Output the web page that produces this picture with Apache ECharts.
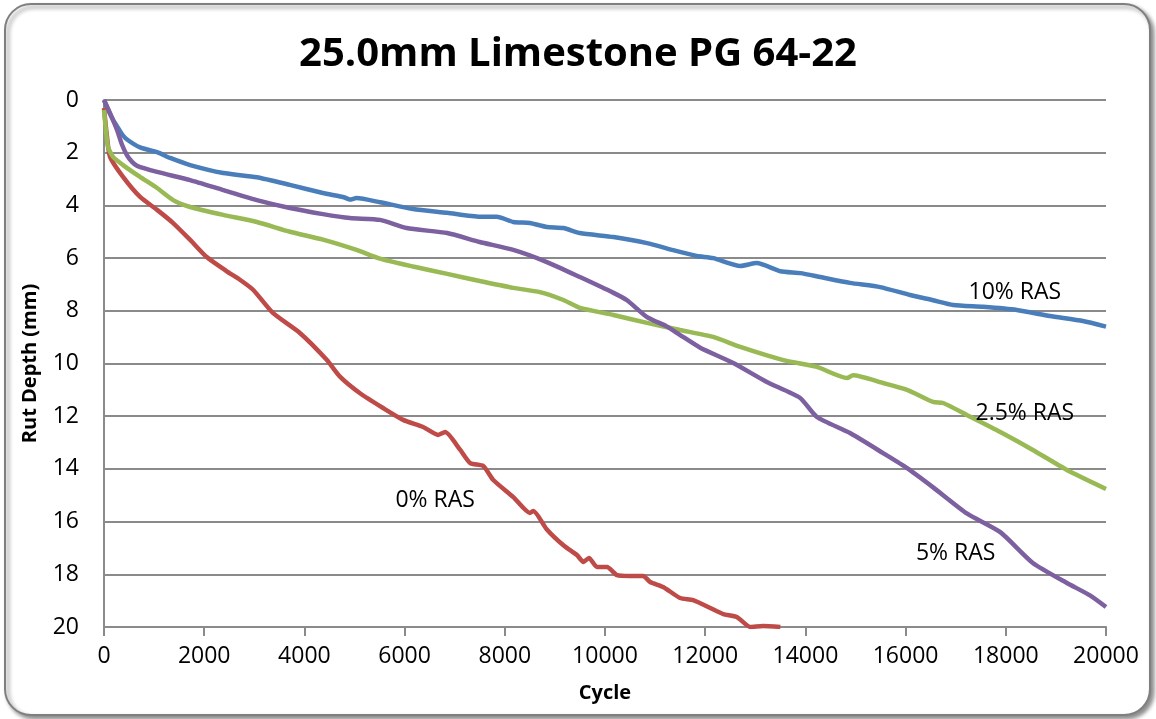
<!DOCTYPE html>
<html>
<head>
<meta charset="utf-8">
<script src="https://cdn.jsdelivr.net/npm/echarts@6/dist/echarts.min.js"></script>
<style>
html,body{margin:0;padding:0;background:#fff;}
#chart{width:1156px;height:719px;}
</style>
</head>
<body>
<div id="chart"></div>
<script>
// ---- Data (cycles, rut depth mm) ----
var xTicks = [0, 2000, 4000, 6000, 8000, 10000, 12000, 14000, 16000, 18000, 20000];
var yTicks = [0, 2, 4, 6, 8, 10, 12, 14, 16, 18, 20];

var ras10Cycles = [0, 100, 180, 260, 360, 460, 720, 1060, 1320, 1720, 2380, 3050, 3710, 4370, 4800, 4910, 5040, 5510, 6170, 6850, 7500, 7840, 8170, 8500, 8840, 9170, 9500, 10170, 10840, 11360, 11830, 12160, 12700, 13030, 13500, 13900, 14300, 14890, 15490, 16090, 16550, 16950, 17550, 18220, 18880, 19540, 20000];
var ras10Depth  = [0, 0.45, 0.75, 1.0, 1.3, 1.5, 1.8, 1.98, 2.2, 2.47, 2.77, 2.93, 3.22, 3.53, 3.7, 3.78, 3.72, 3.88, 4.14, 4.28, 4.43, 4.43, 4.63, 4.67, 4.82, 4.86, 5.05, 5.2, 5.43, 5.7, 5.92, 6.0, 6.3, 6.19, 6.5, 6.57, 6.72, 6.94, 7.1, 7.4, 7.6, 7.78, 7.85, 7.97, 8.2, 8.39, 8.6];

var ras5Cycles = [0, 120, 260, 360, 460, 560, 660, 1060, 1720, 2380, 3050, 3710, 4370, 4910, 5510, 6040, 6850, 7500, 8170, 8840, 9500, 10170, 10440, 10840, 11240, 11500, 11900, 12560, 13230, 13890, 14230, 14890, 15550, 16030, 16550, 17230, 17890, 18540, 19220, 19680, 20000];
var ras5Depth  = [0, 0.5, 1.14, 1.7, 2.1, 2.35, 2.5, 2.73, 3.04, 3.42, 3.8, 4.1, 4.33, 4.48, 4.55, 4.86, 5.05, 5.39, 5.69, 6.15, 6.72, 7.32, 7.6, 8.24, 8.6, 8.92, 9.4, 9.98, 10.7, 11.3, 12.03, 12.64, 13.4, 13.97, 14.7, 15.7, 16.4, 17.57, 18.33, 18.8, 19.24];

var ras25Cycles = [0, 40, 80, 180, 380, 720, 1060, 1380, 1720, 2380, 3050, 3710, 4370, 5040, 5510, 6170, 6850, 7500, 8170, 8700, 9170, 9500, 10170, 10840, 11500, 12160, 12700, 13560, 14230, 14830, 14950, 15550, 16030, 16550, 16750, 17230, 17890, 18540, 19220, 20000];
var ras25Depth  = [0.38, 1.2, 1.78, 2.16, 2.47, 2.92, 3.34, 3.8, 4.06, 4.36, 4.63, 5.0, 5.3, 5.69, 6.02, 6.32, 6.6, 6.87, 7.13, 7.29, 7.59, 7.89, 8.16, 8.46, 8.73, 8.99, 9.37, 9.87, 10.13, 10.55, 10.45, 10.74, 11.0, 11.46, 11.5, 11.96, 12.6, 13.28, 14.04, 14.76];

var ras0Cycles = [0, 60, 120, 380, 720, 1060, 1380, 1720, 2050, 2450, 2720, 2980, 3370, 3910, 4450, 4710, 5110, 5570, 5970, 6370, 6670, 6810, 7110, 7310, 7570, 7770, 8170, 8500, 8570, 8840, 9170, 9440, 9570, 9680, 9840, 10040, 10240, 10500, 10760, 10900, 11160, 11500, 11760, 12100, 12360, 12630, 12900, 13150, 13500];
var ras0Depth  = [0.3, 1.4, 2.16, 2.92, 3.68, 4.17, 4.67, 5.31, 5.96, 6.5, 6.83, 7.21, 8.08, 8.84, 9.87, 10.5, 11.13, 11.69, 12.14, 12.41, 12.71, 12.6, 13.28, 13.78, 13.89, 14.42, 15.07, 15.67, 15.6, 16.3, 16.9, 17.27, 17.53, 17.38, 17.72, 17.72, 18.03, 18.06, 18.06, 18.29, 18.48, 18.9, 18.98, 19.28, 19.51, 19.62, 20.0, 19.96, 20.0];

var labelNames  = ['10% RAS', '2.5% RAS', '5% RAS', '0% RAS'];
var labelCycles = [18180, 18380, 17000, 6610];
var labelDepths = [7.29, 11.88, 17.2, 15.18];

function pairs(xs, ys) { return xs.map(function (x, i) { return [x, ys[i]]; }); }

var FONT = '"Open Sans", "Noto Sans", sans-serif';
var GRID_COLOR = '#8a8a8a';

var chart = echarts.init(document.getElementById('chart'), null, {renderer: 'canvas'});

function lineSeries(name, xs, ys, color) {
  return {
    name: name, type: 'line', data: pairs(xs, ys),
    showSymbol: false, symbol: 'none', smooth: 0.2,
    lineStyle: {color: color, width: 4.5},
    itemStyle: {color: color},
    z: 3
  };
}

var frame = {
  type: 'rect', z: -10, silent: true, id: 'frame',
  shape: {x: 5, y: 4, width: 1145, height: 711, r: 26},
  style: {fill: '#ffffff', stroke: '#7f7f7f', lineWidth: 2,
          shadowBlur: 4, shadowOffsetX: 3, shadowOffsetY: 3, shadowColor: 'rgba(0,0,0,0.45)'}
};

var option = {
  animation: false,
  backgroundColor: 'transparent',
  graphic: [frame],
  title: {
    text: '25.0mm Limestone PG 64-22',
    left: 'center', top: 30,
    textStyle: {fontFamily: FONT, fontWeight: 'bold', fontSize: 40, color: '#000'}
  },
  grid: {left: 104, right: 50, top: 100, bottom: 92, containLabel: false},
  xAxis: {
    type: 'value', min: xTicks[0], max: xTicks[xTicks.length - 1], interval: 2000,
    name: 'Cycle', nameLocation: 'middle', nameGap: 56,
    nameTextStyle: {fontFamily: FONT, fontWeight: 'bold', fontSize: 20, color: '#000'},
    axisLine: {onZero: false, lineStyle: {color: GRID_COLOR, width: 2}},
    axisTick: {show: true, inside: false, length: 9, lineStyle: {color: GRID_COLOR, width: 2}},
    axisLabel: {fontFamily: FONT, fontSize: 23, color: '#000', margin: 18,
                formatter: function (v) { return String(v); }},
    splitLine: {show: false}
  },
  yAxis: {
    type: 'value', inverse: true, min: yTicks[0], max: yTicks[yTicks.length - 1], interval: 2,
    name: 'Rut Depth (mm)', nameLocation: 'middle', nameGap: 64, nameRotate: 90,
    nameTextStyle: {fontFamily: FONT, fontWeight: 'bold', fontSize: 20, color: '#000'},
    axisLine: {show: true, onZero: false, lineStyle: {color: GRID_COLOR, width: 2}},
    axisTick: {show: false},
    axisLabel: {fontFamily: FONT, fontSize: 23, color: '#000', margin: 25,
                formatter: function (v) { return String(v); }},
    splitLine: {show: true, lineStyle: {color: GRID_COLOR, width: 2}}
  },
  series: [
    lineSeries('10% RAS', ras10Cycles, ras10Depth, '#4a7ebb'),
    lineSeries('0% RAS', ras0Cycles, ras0Depth, '#be4b48'),
    lineSeries('2.5% RAS', ras25Cycles, ras25Depth, '#98b954'),
    lineSeries('5% RAS', ras5Cycles, ras5Depth, '#7d60a0')
  ]
};
chart.setOption(option);

// Series labels placed through the chart's own scales
var texts = labelNames.map(function (n, i) {
  var p = chart.convertToPixel({gridIndex: 0}, [labelCycles[i], labelDepths[i]]);
  return {
    type: 'text', z: 10, silent: true, x: p[0], y: p[1],
    style: {text: n, fill: '#000', font: '23px ' + FONT, align: 'center', verticalAlign: 'middle'}
  };
});
chart.setOption({graphic: [frame].concat(texts)}, {replaceMerge: ['graphic']});
</script>
</body>
</html>
